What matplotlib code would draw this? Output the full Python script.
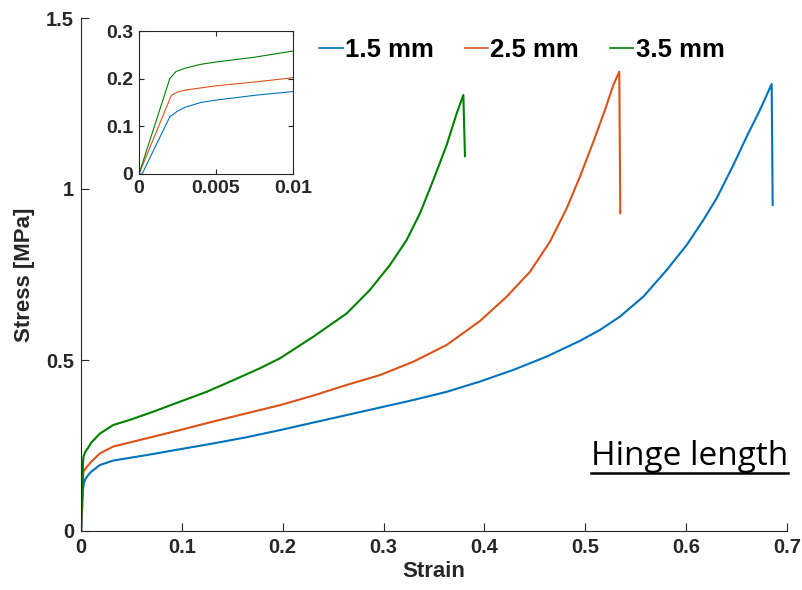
import matplotlib
matplotlib.use("Agg")
import matplotlib.pyplot as plt
from matplotlib.lines import Line2D

# ---- data ----
labels = ["1.5 mm", "2.5 mm", "3.5 mm"]
colors = ["#0072BD", "#D95319", "#008000"]

strain_15 = [0, 0.0002, 0.002, 0.0025, 0.003, 0.004, 0.005, 0.0075, 0.01, 0.0188, 0.032,
             0.0651, 0.098, 0.131, 0.164, 0.1973, 0.2303, 0.2634, 0.2965, 0.3295, 0.3626,
             0.3956, 0.4286, 0.4617, 0.4947, 0.5146, 0.5344, 0.5575, 0.5807, 0.6005,
             0.617, 0.6303, 0.6468, 0.66, 0.6732, 0.6848, 0.6858]
stress_15 = [0, 0, 0.12, 0.132, 0.14, 0.15, 0.155, 0.165, 0.173, 0.193, 0.206,
             0.222, 0.239, 0.256, 0.274, 0.295, 0.317, 0.339, 0.361, 0.383, 0.407,
             0.437, 0.471, 0.510, 0.556, 0.588, 0.627, 0.685, 0.763, 0.836,
             0.909, 0.973, 1.070, 1.153, 1.231, 1.307, 0.953]

strain_25 = [0, 0.0021, 0.0025, 0.003, 0.005, 0.0075, 0.01, 0.0188, 0.032, 0.0651,
             0.098, 0.131, 0.164, 0.1973, 0.2303, 0.2634, 0.2965, 0.3295, 0.3626,
             0.3956, 0.422, 0.4452, 0.465, 0.4815, 0.4947, 0.508, 0.5195, 0.5278,
             0.5337, 0.5347]
stress_25 = [0, 0.165, 0.172, 0.176, 0.185, 0.193, 0.202, 0.227, 0.247, 0.271,
             0.295, 0.320, 0.344, 0.368, 0.396, 0.427, 0.456, 0.495, 0.544,
             0.614, 0.685, 0.758, 0.846, 0.943, 1.036, 1.138, 1.231, 1.304,
             1.343, 0.929]

strain_35 = [0, 0.002, 0.0024, 0.003, 0.004, 0.005, 0.0075, 0.01, 0.0188, 0.032,
             0.0486, 0.0717, 0.098, 0.1246, 0.151, 0.1775, 0.1973, 0.2303, 0.2634,
             0.2865, 0.3064, 0.3229, 0.3361, 0.3493, 0.3626, 0.3725, 0.3791, 0.3807]
stress_35 = [0, 0.2, 0.215, 0.222, 0.23, 0.235, 0.245, 0.258, 0.285, 0.31,
             0.325, 0.349, 0.378, 0.407, 0.441, 0.476, 0.505, 0.568, 0.636,
             0.705, 0.778, 0.851, 0.929, 1.026, 1.129, 1.221, 1.275, 1.096]

series = [(strain_15, stress_15), (strain_25, stress_25), (strain_35, stress_35)]

x_ticks = [0, 0.1, 0.2, 0.3, 0.4, 0.5, 0.6, 0.7]
y_ticks = [0, 0.5, 1, 1.5]
inset_x_ticks = [0, 0.005, 0.01]
inset_y_ticks = [0, 0.1, 0.2, 0.3]

plt.rcParams['font.family'] = ['Liberation Sans', 'DejaVu Sans']
tc = "#262626"

W, H = 802, 590
fig = plt.figure(figsize=(W / 100, H / 100), dpi=100)

ax = fig.add_axes([81 / W, 59 / H, 706 / W, 513 / H])
for (s, st), c, lab in zip(series, colors, labels):
    ax.plot(s, st, color=c, lw=1.5, label=lab)
ax.set_xlim(0, 0.7)
ax.set_ylim(0, 1.5)
ax.set_xticks(x_ticks)
ax.set_xticklabels(["0", "0.1", "0.2", "0.3", "0.4", "0.5", "0.6", "0.7"])
ax.set_yticks(y_ticks)
ax.set_yticklabels(["0", "0.5", "1", "1.5"])
for sp in ["top", "right"]:
    ax.spines[sp].set_visible(False)
for sp in ["left", "bottom"]:
    ax.spines[sp].set_color(tc)
    ax.spines[sp].set_linewidth(0.8)
ax.tick_params(direction="in", length=5.5, width=0.8, color=tc, labelcolor=tc,
               labelsize=14.5, pad=5)
for t in ax.get_xticklabels() + ax.get_yticklabels():
    t.set_fontweight("bold")
ax.set_xlabel("Strain", fontsize=16, fontweight="bold", color=tc, labelpad=3)
ax.set_ylabel("Stress [MPa]", fontsize=16, fontweight="bold", color=tc, labelpad=8)

leg = ax.legend(loc="center", bbox_to_anchor=(522 / W, (H - 50) / H),
                bbox_transform=fig.transFigure, ncol=3, frameon=False,
                fontsize=18.5, handlelength=0.9, handletextpad=0.1,
                columnspacing=1.2, borderpad=0)
for t in leg.get_texts():
    t.set_fontweight("bold")
for l in leg.get_lines():
    l.set_linewidth(1.2)

txt = ax.text(788 / W, (H - 465) / H, "Hinge length", transform=fig.transFigure,
              ha="right", va="baseline", fontsize=24, family="Open Sans", color="black")

# inset
axi = fig.add_axes([139 / W, 416 / H, 154 / W, 143 / H])
for (s, st), c in zip(series, colors):
    axi.plot(s, st, color=c, lw=0.8)
axi.set_xlim(0, 0.01)
axi.set_ylim(0, 0.3)
axi.set_xticks(inset_x_ticks)
axi.set_xticklabels(["0", "0.005", "0.01"])
axi.set_yticks(inset_y_ticks)
axi.set_yticklabels(["0", "0.1", "0.2", "0.3"])
for sp in axi.spines.values():
    sp.set_color(tc)
    sp.set_linewidth(0.8)
axi.tick_params(direction="in", length=3.5, width=0.8, color=tc, labelcolor=tc,
                labelsize=14, pad=4, top=True, right=True)
for t in axi.get_xticklabels() + axi.get_yticklabels():
    t.set_fontweight("bold")

# underline for "Hinge length"
fig.canvas.draw()
bb = txt.get_window_extent(renderer=fig.canvas.get_renderer())
uy = (H - 473) / H
fig.add_artist(Line2D([bb.x0 / W, bb.x1 / W], [uy, uy], transform=fig.transFigure,
                      color="black", lw=1.8))

fig.savefig("out.png", dpi=100)
